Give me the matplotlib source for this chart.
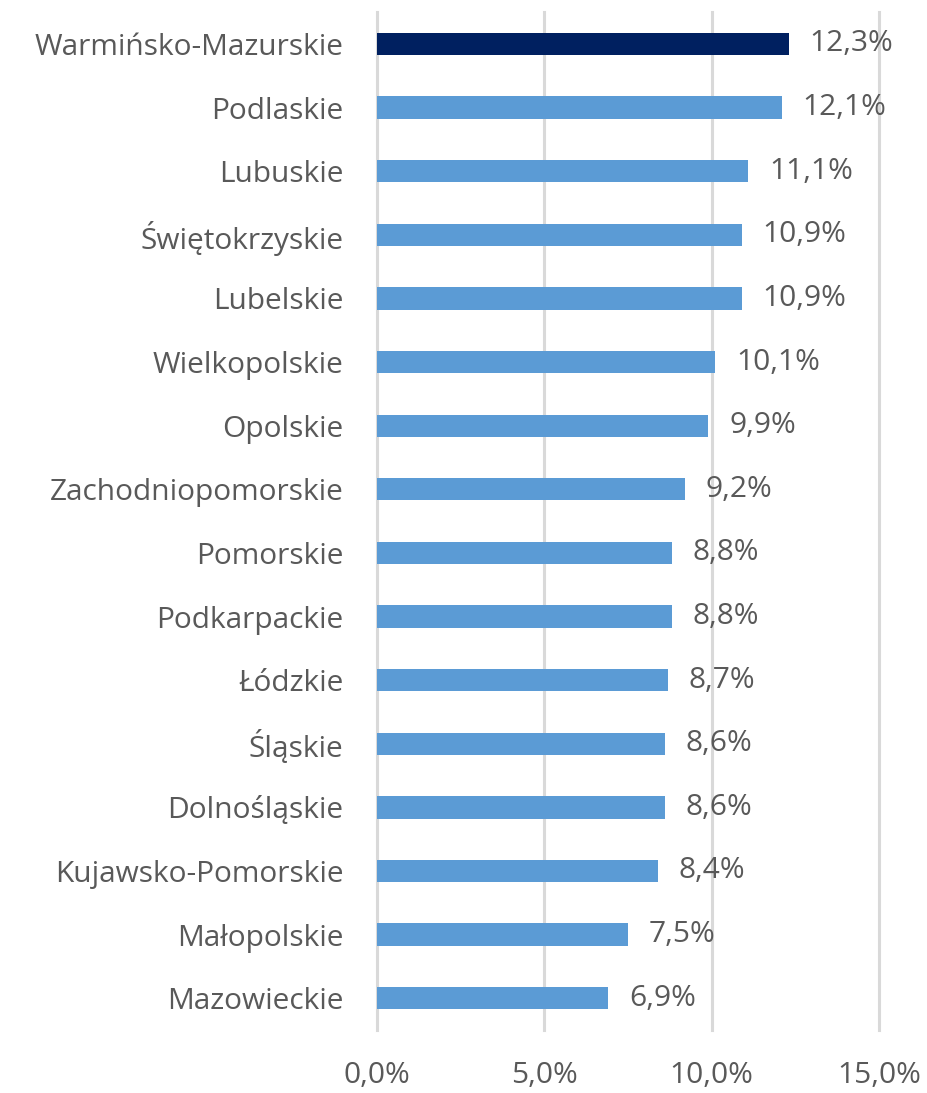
import matplotlib.pyplot as plt
from matplotlib.ticker import FuncFormatter

regions = ["Warmińsko-Mazurskie", "Podlaskie", "Lubuskie", "Świętokrzyskie",
           "Lubelskie", "Wielkopolskie", "Opolskie", "Zachodniopomorskie",
           "Pomorskie", "Podkarpackie", "Łódzkie", "Śląskie", "Dolnośląskie",
           "Kujawsko-Pomorskie", "Małopolskie", "Mazowieckie"]
values = [12.3, 12.1, 11.1, 10.9, 10.9, 10.1, 9.9, 9.2,
          8.8, 8.8, 8.7, 8.6, 8.6, 8.4, 7.5, 6.9]
highlight = "Warmińsko-Mazurskie"

plt.rcParams['font.family'] = ['Open Sans', 'DejaVu Sans']
text_color = "#595959"
fs = 21.5

fig = plt.figure(figsize=(9.27, 10.93), dpi=100)
ax = fig.add_axes([0.4067, 0.0576, 0.5415, 0.9313])

ypos = list(range(len(regions)))
colors = ["#002060" if r == highlight else "#5B9BD5" for r in regions]
ax.barh(ypos, values, height=0.35, color=colors, zorder=3)

for y, v in zip(ypos, values):
    ax.annotate(f"{v:.1f}%".replace(".", ","), (v, y), xytext=(15, 0),
                textcoords="offset points", va="center", ha="left",
                fontsize=fs, color=text_color)

ax.set_xlim(0, 15)
ax.set_ylim(len(regions) - 0.5, -0.5)
ax.set_xticks([0, 5, 10, 15])
ax.xaxis.set_major_formatter(FuncFormatter(lambda x, p: f"{x:.1f}%".replace(".", ",")))
ax.set_yticks(ypos)
ax.set_yticklabels(regions)
ax.tick_params(axis="y", length=0, pad=24, labelsize=fs, labelcolor=text_color)
ax.tick_params(axis="x", length=0, pad=22, labelsize=fs, labelcolor=text_color)
ax.grid(axis="x", color="#d9d9d9", linewidth=2.2, zorder=0)
for line in ax.get_xgridlines():
    line.set_clip_on(False)
for s in ax.spines.values():
    s.set_visible(False)

fig.savefig("out.png", dpi=100)
